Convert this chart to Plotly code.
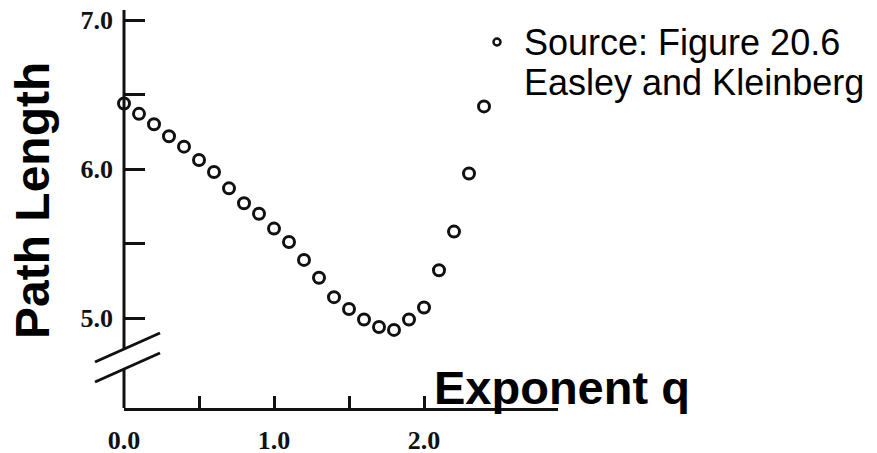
import plotly.graph_objects as go

# ---- data ----
exponent_q = [0.0, 0.1, 0.2, 0.3, 0.4, 0.5, 0.6, 0.7, 0.8, 0.9, 1.0, 1.1, 1.2,
              1.3, 1.4, 1.5, 1.6, 1.7, 1.8, 1.9, 2.0, 2.1, 2.2, 2.3, 2.4]
path_length = [6.44, 6.37, 6.30, 6.22, 6.15, 6.06, 5.98, 5.87, 5.77, 5.70, 5.60,
               5.51, 5.39, 5.27, 5.14, 5.06, 4.99, 4.94, 4.92, 4.99, 5.07, 5.32,
               5.58, 5.97, 6.42]
y_tick_vals = [5.0, 5.5, 6.0, 6.5, 7.0]
y_tick_text = ["5.0", "", "6.0", "", "7.0"]
x_tick_vals = [0.0, 0.5, 1.0, 1.5, 2.0]
x_tick_text = ["0.0", "", "1.0", "", "2.0"]

# page body has an 8px margin; work in screen pixels and compensate
OFF = 8
W, H = 877 - OFF, 453 - OFF
X0, X1 = 124, 558       # plot area left/right in screen px
Y0, Y1 = 10, 408        # plot area top/bottom in screen px
L, T = X0 - OFF, Y0 - OFF
R, B = W - (X1 - OFF), H - (Y1 - OFF)
PW, PH = X1 - X0, Y1 - Y0


def px(xs):
    return (xs - X0) / PW


def py(ys):
    return (Y1 - ys) / PH


INK = "#111111"
serif_bold = dict(family="Liberation Serif, Times New Roman, serif", size=26,
                  color=INK, weight="bold")

fig = go.Figure()
fig.add_trace(go.Scatter(
    x=exponent_q, y=path_length, mode="markers",
    marker=dict(symbol="circle-open", size=11, color=INK,
                line=dict(width=3, color=INK)),
    cliponaxis=False, showlegend=False,
))

y_top = 7.0 + 10 / 149.0
fig.update_layout(
    width=W, height=H,
    margin=dict(l=L, r=R, t=T, b=B, pad=0, autoexpand=False),
    plot_bgcolor="white", paper_bgcolor="white",
    xaxis=dict(range=[0, PW / 150.0], showgrid=False, zeroline=False,
               automargin=False, ticklabeloverflow="allow",
               showline=True, linewidth=3, linecolor=INK,
               ticks="inside", ticklen=12, tickwidth=3, tickcolor=INK,
               tickvals=x_tick_vals, ticktext=x_tick_text,
               tickfont=serif_bold, ticklabelstandoff=7),
    yaxis=dict(range=[y_top - PH / 149.0, y_top],
               showgrid=False, zeroline=False, showline=False,
               automargin=False, ticklabeloverflow="allow",
               ticks="inside", ticklen=21, tickwidth=3, tickcolor=INK,
               tickvals=y_tick_vals, ticktext=y_tick_text,
               tickfont=serif_bold, ticklabelstandoff=10),
)

# broken y-axis line
axis_line = dict(color=INK, width=3)
fig.add_shape(type="line", xref="paper", yref="paper",
              x0=0, x1=0, y0=py(348.6), y1=1, line=axis_line)
fig.add_shape(type="line", xref="paper", yref="paper",
              x0=0, x1=0, y0=0, y1=py(368.6), line=axis_line)
# break slashes
fig.add_shape(type="line", xref="paper", yref="paper",
              x0=px(95), y0=py(362), x1=px(160), y1=py(333), line=axis_line)
fig.add_shape(type="line", xref="paper", yref="paper",
              x0=px(95), y0=py(382), x1=px(160), y1=py(353), line=axis_line)

fig.add_annotation(text="Path Length", xref="paper", yref="paper",
                   x=px(32), y=py(201), xanchor="center", yanchor="middle",
                   textangle=-90, showarrow=False,
                   font=dict(family="Liberation Sans, Arial, sans-serif",
                             size=48, color="black", weight="bold"))
fig.add_annotation(text="Exponent q", xref="paper", yref="paper",
                   x=px(562), y=py(387), xanchor="center", yanchor="middle",
                   showarrow=False,
                   font=dict(family="Liberation Sans, Arial, sans-serif",
                             size=47, color="black", weight="bold"))

# legend (manual)
legend_font = dict(family="Liberation Sans, Arial, sans-serif", size=36,
                   color="black")
fig.add_annotation(text="Source: Figure 20.6", xref="paper", yref="paper",
                   x=px(522), y=py(43), xanchor="left", yanchor="middle",
                   showarrow=False, font=legend_font)
fig.add_annotation(text="Easley and Kleinberg", xref="paper", yref="paper",
                   x=px(522), y=py(83), xanchor="left", yanchor="middle",
                   showarrow=False, font=legend_font)
fig.add_shape(type="circle", xref="paper", yref="paper",
              xsizemode="pixel", ysizemode="pixel",
              xanchor=px(497), yanchor=py(42),
              x0=-3.5, x1=3.5, y0=-3.5, y1=3.5, line=dict(color=INK, width=2.5))

fig.write_html("out.html")
